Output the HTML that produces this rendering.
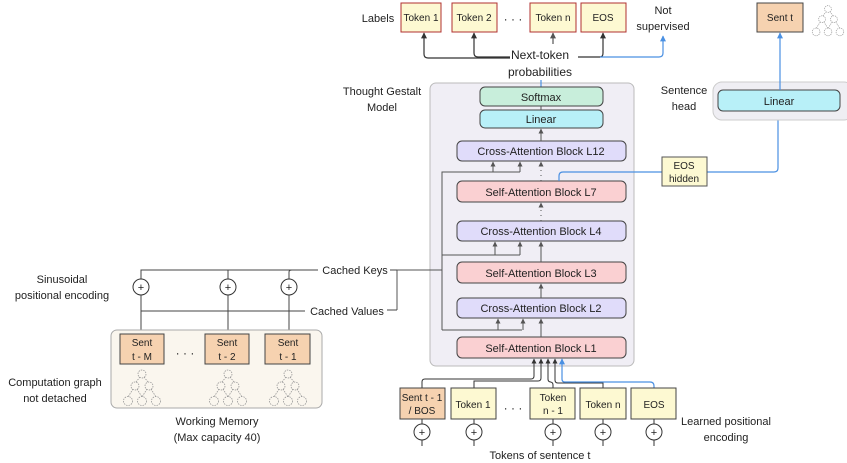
<!DOCTYPE html>
<html><head><meta charset="utf-8"><style>
html,body{margin:0;padding:0;background:#fff;}
svg{display:block;font-family:"Liberation Sans","DejaVu Sans",sans-serif;}
text{fill:#222;}
</style></head><body>
<svg width="847" height="463" viewBox="0 0 847 463" xmlns="http://www.w3.org/2000/svg">
<defs>
<marker id="ab" viewBox="0 0 10 10" refX="9" refY="5" markerWidth="5" markerHeight="5" orient="auto"><path d="M0,0L10,5L0,10z" fill="#333"/></marker>
<marker id="ag" viewBox="0 0 10 10" refX="9" refY="5" markerWidth="5" markerHeight="5" orient="auto"><path d="M0,0L10,5L0,10z" fill="#555"/></marker>
<marker id="al" viewBox="0 0 10 10" refX="9" refY="5" markerWidth="5" markerHeight="5" orient="auto"><path d="M0,0L10,5L0,10z" fill="#4a90e2"/></marker>
<g id="tree" fill="none" stroke="#999" stroke-width="0.8" stroke-dasharray="1.5,1">
<circle cx="0" cy="0" r="4"/><circle cx="-7" cy="12" r="4"/><circle cx="7" cy="12" r="4"/>
<circle cx="-14" cy="27" r="4.5"/><circle cx="0" cy="27" r="4.5"/><circle cx="14" cy="27" r="4.5"/>
<path d="M-2,3L-6,8M2,3L6,8M-9,15L-14,23M-5,15L0,23M5,15L0,23M9,15L14,23"/>
</g>
<g id="plus"><circle cx="0" cy="0" r="8" fill="#fff" stroke="#333" stroke-width="1"/><text x="0" y="4" font-size="11" text-anchor="middle">+</text></g>
</defs>

<!-- top labels -->
<text x="378" y="22" font-size="11" text-anchor="middle">Labels</text>
<g font-size="10" text-anchor="middle">
<rect x="401" y="3" width="40" height="29" fill="#fdf9d2" stroke="#b03030"/><text x="421" y="21">Token 1</text>
<rect x="452" y="3" width="45" height="29" fill="#fdf9d2" stroke="#b03030"/><text x="474" y="21">Token 2</text>
<text x="513" y="23" font-size="12">· · ·</text>
<rect x="530" y="3" width="46" height="29" fill="#fdf9d2" stroke="#b03030"/><text x="553" y="21">Token n</text>
<rect x="581" y="3" width="45" height="29" fill="#fdf9d2" stroke="#b03030"/><text x="603" y="21">EOS</text>
</g>
<text x="663" y="14" font-size="11" text-anchor="middle">Not</text>
<text x="663" y="30" font-size="11" text-anchor="middle">supervised</text>
<rect x="757" y="3" width="46" height="29" fill="#f6d2b0" stroke="#444"/><text x="780" y="21" font-size="10" text-anchor="middle">Sent t</text>
<use href="#tree" transform="translate(828,9) scale(0.85)"/>

<!-- next-token arrows -->
<g fill="none" stroke-width="1.2">
<path d="M510,58H428Q424,58 424,54V33" stroke="#333" marker-end="url(#ab)"/>
<path d="M510,57H478Q474,57 474,53V33" stroke="#333" marker-end="url(#ab)"/>
<path d="M553,44V33" stroke="#555" marker-end="url(#ag)"/>
<path d="M578,57H600Q603,57 603,53V33" stroke="#333" marker-end="url(#ab)"/>
<path d="M600,57H659Q663,57 663,53V36" stroke="#4a90e2" marker-end="url(#al)"/>
</g>
<text x="540" y="59" font-size="12" text-anchor="middle">Next-token</text>
<text x="540" y="76" font-size="12" text-anchor="middle">probabilities</text>
<text x="382" y="95" font-size="11" text-anchor="middle">Thought Gestalt</text>
<text x="382" y="111" font-size="11" text-anchor="middle">Model</text>

<!-- TGM container -->
<rect x="430" y="83" width="204" height="283" rx="6" fill="#f0eef5" stroke="#bbb"/>
<line x1="541" y1="80" x2="541" y2="87" stroke="#4a90e2" stroke-width="1.2"/>
<g stroke="#444" stroke-width="1" font-size="11" text-anchor="middle">
<rect x="480" y="87" width="123" height="19" rx="5" fill="#c8eedb"/>
<rect x="480" y="110" width="123" height="18" rx="5" fill="#b8f0f8"/>
<rect x="457" y="141" width="169" height="20" rx="5" fill="#e0dcfa"/>
<rect x="457" y="181" width="169" height="21" rx="5" fill="#fad0d2"/>
<rect x="457" y="221" width="169" height="20" rx="5" fill="#e0dcfa"/>
<rect x="457" y="262" width="169" height="21" rx="5" fill="#fad0d2"/>
<rect x="457" y="298" width="169" height="20" rx="5" fill="#e0dcfa"/>
<rect x="457" y="337" width="169" height="21" rx="5" fill="#fad0d2"/>
</g>
<g font-size="11" text-anchor="middle">
<text x="541" y="101">Softmax</text>
<text x="541" y="123">Linear</text>
<text x="541" y="155">Cross-Attention Block L12</text>
<text x="541" y="196">Self-Attention Block L7</text>
<text x="541" y="235">Cross-Attention Block L4</text>
<text x="541" y="277">Self-Attention Block L3</text>
<text x="541" y="312">Cross-Attention Block L2</text>
<text x="541" y="352">Self-Attention Block L1</text>
</g>
<g fill="none" stroke="#555" stroke-width="1">
<line x1="541" y1="106" x2="541" y2="110"/>
<path d="M541,141V129" marker-end="url(#ag)"/>
<path d="M541,337V319" marker-end="url(#ag)"/>
<path d="M541,298V284" marker-end="url(#ag)"/>
<path d="M541,262V242" marker-end="url(#ag)"/>
<path d="M541,221V203" stroke-dasharray="1,4" marker-end="url(#ag)"/>
<path d="M541,181V162" stroke-dasharray="1,4" marker-end="url(#ag)"/>
<!-- bus -->
<path d="M442,330V172H520"/>
<path d="M493,172V162" marker-end="url(#ag)"/><path d="M520,172V162" marker-end="url(#ag)"/>
<path d="M442,255H520"/>
<path d="M495,255V242" marker-end="url(#ag)"/><path d="M520,255V242" marker-end="url(#ag)"/>
<path d="M442,330H522"/>
<path d="M498,330V319" marker-end="url(#ag)"/><path d="M523,330V319" marker-end="url(#ag)"/>
<path d="M397,270H442M397,270V310"/>
</g>
<!-- EOS hidden blue path -->
<path d="M559,181V176Q559,172 563,172H774Q778,172 778,168V112" fill="none" stroke="#4a90e2" stroke-width="1.2" marker-end="url(#al)"/>
<rect x="662" y="157" width="45" height="29" fill="#fdf9d2" stroke="#555"/>
<text x="684" y="169" font-size="10" text-anchor="middle">EOS</text>
<text x="684" y="182" font-size="10" text-anchor="middle">hidden</text>

<!-- sentence head -->
<text x="684" y="94" font-size="11" text-anchor="middle">Sentence</text>
<text x="684" y="110" font-size="11" text-anchor="middle">head</text>
<rect x="713" y="82" width="140" height="38" rx="9" fill="#efeef3" stroke="#ccc"/>
<rect x="718" y="90" width="122" height="21" rx="5" fill="#b8f0f8" stroke="#444"/>
<text x="779" y="105" font-size="11" text-anchor="middle">Linear</text>
<path d="M780,90V33" fill="none" stroke="#4a90e2" stroke-width="1.2" marker-end="url(#al)"/>

<!-- cached keys/values -->
<g fill="none" stroke="#444" stroke-width="1">
<path d="M141,279V270H320"/>
<line x1="228" y1="270" x2="228" y2="279"/>
<path d="M289,279V272Q289,270 292,270"/>
<path d="M141,311H306"/>
<path d="M375,270H397M380,310H397"/>
<line x1="141" y1="295" x2="141" y2="334"/>
<line x1="228" y1="295" x2="228" y2="334"/>
<line x1="289" y1="295" x2="289" y2="334"/>
</g>
<rect x="318" y="262" width="72" height="16" fill="#fff"/>
<text x="355" y="274" font-size="11" text-anchor="middle">Cached Keys</text>
<rect x="305" y="303" width="82" height="16" fill="#fff"/>
<text x="347" y="315" font-size="11" text-anchor="middle">Cached Values</text>
<use href="#plus" x="141" y="287"/><use href="#plus" x="228" y="287"/><use href="#plus" x="289" y="287"/>
<text x="62" y="283" font-size="11" text-anchor="middle">Sinusoidal</text>
<text x="62" y="299" font-size="11" text-anchor="middle">positional encoding</text>

<!-- working memory -->
<rect x="111" y="330" width="211" height="78" rx="6" fill="#faf6ee" stroke="#aaa"/>
<g font-size="10" text-anchor="middle">
<rect x="120" y="334" width="44" height="30" fill="#f6d2b0" stroke="#444"/><text x="142" y="346">Sent</text><text x="142" y="360">t - M</text>
<text x="185" y="357" font-size="12">· · ·</text>
<rect x="205" y="334" width="44" height="30" fill="#f6d2b0" stroke="#444"/><text x="227" y="346">Sent</text><text x="227" y="360">t - 2</text>
<rect x="265" y="334" width="45" height="30" fill="#f6d2b0" stroke="#444"/><text x="288" y="346">Sent</text><text x="288" y="360">t - 1</text>
</g>
<use href="#tree" transform="translate(142,374)"/>
<use href="#tree" transform="translate(228,374)"/>
<use href="#tree" transform="translate(288,374)"/>
<text x="55" y="386" font-size="11" text-anchor="middle">Computation graph</text>
<text x="55" y="402" font-size="11" text-anchor="middle">not detached</text>
<text x="217" y="425" font-size="11" text-anchor="middle">Working Memory</text>
<text x="217" y="441" font-size="11" text-anchor="middle">(Max capacity 40)</text>

<!-- bottom tokens -->
<g fill="none" stroke-width="1">
<path d="M422,388V382Q422,379 425,379H531Q534,379 534,376V359" stroke="#333" marker-end="url(#ab)"/>
<path d="M474,388V381H538Q541,381 541,378V359" stroke="#333" marker-end="url(#ab)"/>
<path d="M553,388V385Q553,382 550,382H551Q548,382 548,379V359" stroke="#333" marker-end="url(#ab)"/>
<path d="M603,388V383H558Q555,383 555,380V359" stroke="#333" marker-end="url(#ab)"/>
<path d="M654,388V386Q654,382 650,382H565Q562,382 562,379V359" stroke="#4a90e2" stroke-width="1.2" marker-end="url(#al)"/>
</g>
<g font-size="10" text-anchor="middle">
<rect x="400" y="388" width="45" height="31" fill="#f6d2b0" stroke="#444"/><text x="422" y="401">Sent t - 1</text><text x="422" y="414">/ BOS</text>
<rect x="451" y="388" width="45" height="31" fill="#fdf9d2" stroke="#444"/><text x="473" y="408">Token 1</text>
<text x="513" y="412" font-size="12">· · ·</text>
<rect x="530" y="388" width="45" height="31" fill="#fdf9d2" stroke="#444"/><text x="553" y="401">Token</text><text x="553" y="414">n - 1</text>
<rect x="580" y="388" width="46" height="31" fill="#fdf9d2" stroke="#444"/><text x="603" y="408">Token n</text>
<rect x="631" y="388" width="45" height="31" fill="#fdf9d2" stroke="#444"/><text x="654" y="408">EOS</text>
</g>
<g stroke="#333">
<line x1="422" y1="440" x2="422" y2="446"/><line x1="474" y1="440" x2="474" y2="446"/><line x1="553" y1="440" x2="553" y2="446"/><line x1="603" y1="440" x2="603" y2="446"/><line x1="654" y1="440" x2="654" y2="446"/>
<line x1="422" y1="419" x2="422" y2="424"/><line x1="474" y1="419" x2="474" y2="424"/><line x1="553" y1="419" x2="553" y2="424"/><line x1="603" y1="419" x2="603" y2="424"/><line x1="654" y1="419" x2="654" y2="424"/>
</g>
<use href="#plus" x="422" y="432"/><use href="#plus" x="474" y="432"/><use href="#plus" x="553" y="432"/><use href="#plus" x="603" y="432"/><use href="#plus" x="654" y="432"/>
<text x="540" y="459" font-size="11" text-anchor="middle">Tokens of  sentence t</text>
<text x="726" y="425" font-size="11" text-anchor="middle">Learned positional</text>
<text x="726" y="441" font-size="11" text-anchor="middle">encoding</text>
</svg>
</body></html>
